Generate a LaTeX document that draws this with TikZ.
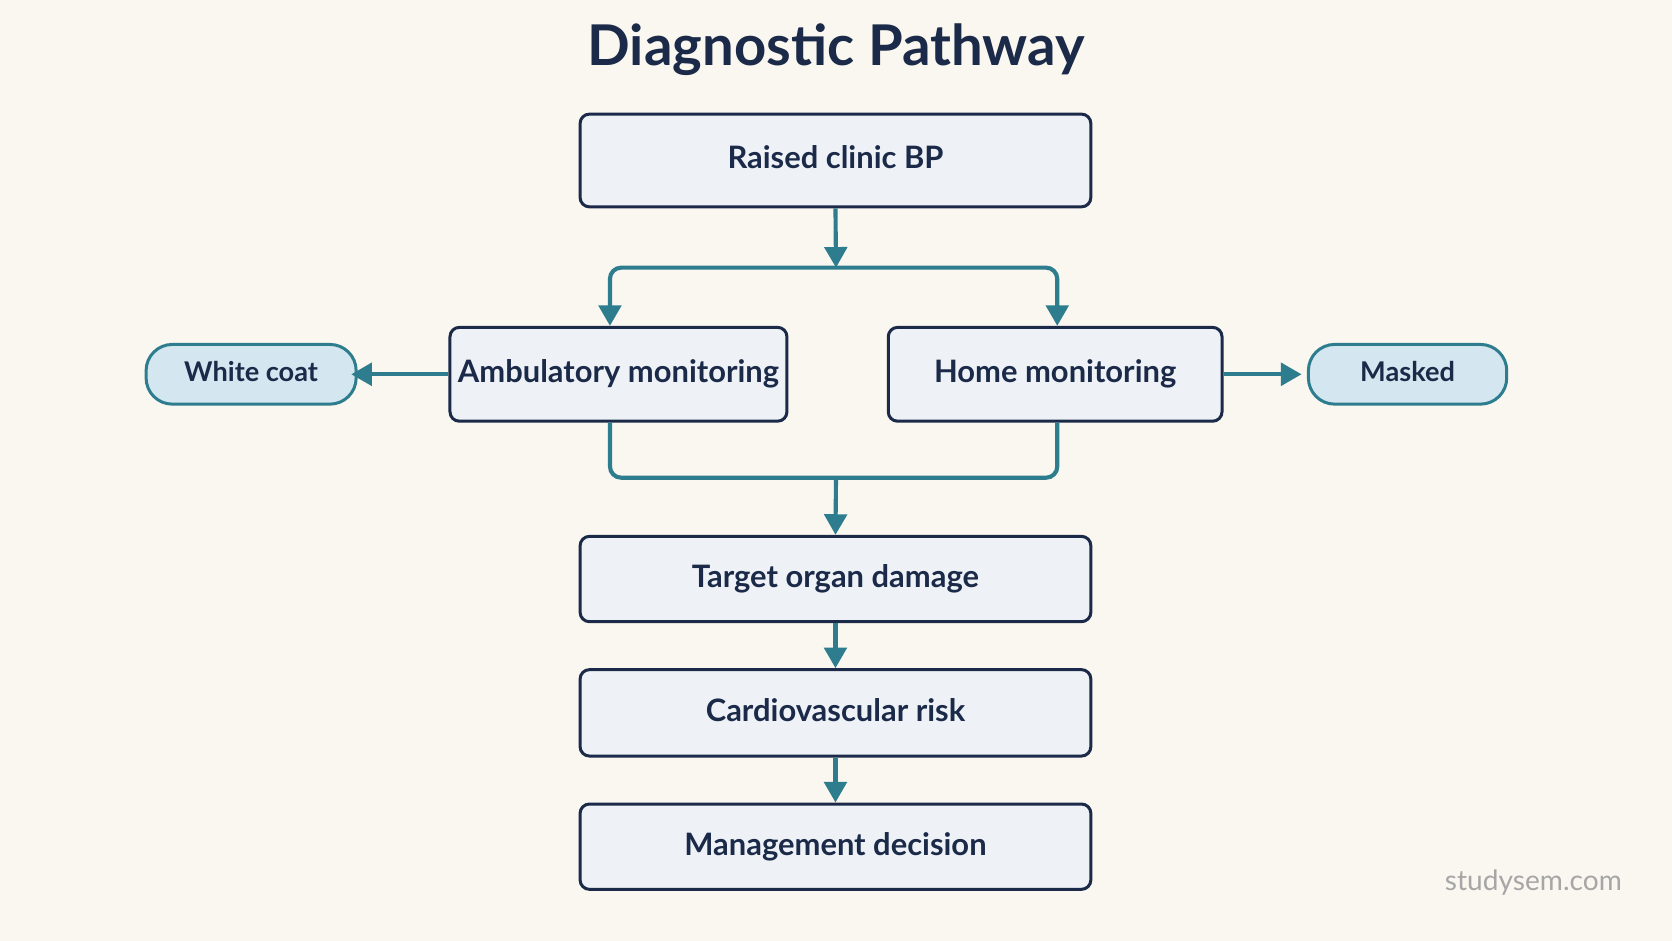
\documentclass[tikz,border=0pt]{standalone}
\usepackage{fontspec}
\setmainfont{Lato}
\usetikzlibrary{arrows.meta}
\definecolor{bg}{HTML}{FAF7F0}
\definecolor{boxfill}{HTML}{EEF2F7}
\definecolor{navy}{HTML}{1B2A48}
\definecolor{teal}{HTML}{2E7D8F}
\definecolor{pillfill}{HTML}{D4E6EF}
\tikzset{
  box/.style={draw=navy,line width=1.6pt,fill=boxfill,rounded corners=5pt,text=navy,font=\fontsize{16.5}{20}\selectfont\bfseries,inner sep=0,text height=12pt,text depth=3pt},
  pill/.style={draw=teal,line width=1.6pt,fill=pillfill,rounded corners=14pt,text=navy,font=\fontsize{14.5}{18}\selectfont\bfseries,inner sep=0,text height=10.5pt,text depth=2.5pt},
  conn/.style={draw=teal,line width=2.2pt,rounded corners=6pt},
  arr/.style={conn,-{Triangle[length=11pt,width=12pt]}}
}
\begin{document}
\begin{tikzpicture}[x=0.02cm,y=-0.02cm]
\fill[bg] (0,0) rectangle (1568,882);
\useasboundingbox (0,0) rectangle (1568,882);
\node[text=navy,font=\fontsize{30}{36}\selectfont\bfseries] (title) at (784,47) {Diagnostic Pathway};
\node[box,minimum width=479*0.02cm,minimum height=87*0.02cm] (raised) at (783.5,150.5) {Raised clinic BP};
\node[box,minimum width=316*0.02cm,minimum height=88*0.02cm] (amb) at (580,351) {Ambulatory monitoring};
\node[box,minimum width=313*0.02cm,minimum height=88*0.02cm] (home) at (989.5,351) {Home monitoring};
\node[pill,minimum width=197*0.02cm,minimum height=56*0.02cm] (white) at (235.5,351) {White coat};
\node[pill,minimum width=186*0.02cm,minimum height=56*0.02cm] (masked) at (1320,351) {Masked};
\node[box,minimum width=479*0.02cm,minimum height=80*0.02cm] (tod) at (783.5,543) {Target organ damage};
\node[box,minimum width=479*0.02cm,minimum height=81*0.02cm] (cv) at (783.5,668.5) {Cardiovascular risk};
\node[box,minimum width=479*0.02cm,minimum height=80*0.02cm] (mgmt) at (783.5,794) {Management decision};
\coordinate (j1) at (784,251);
\coordinate (j2) at (784,448);
\draw[arr] (raised.south) -- (j1);
\draw[arr] (j1) -| ([xshift=-8*0.02cm]amb.north);
\draw[arr] (j1) -| ([xshift=2*0.02cm]home.north);
\draw[conn] ([xshift=-8*0.02cm]amb.south) |- (j2) -| ([xshift=2*0.02cm]home.south);
\draw[arr] (j2) -- (tod.north);
\draw[arr] (tod.south) -- (cv.north);
\draw[arr] (cv.south) -- (mgmt.north);
\draw[arr] (amb.west) -- ([xshift=-6*0.02cm]white.east);
\draw[arr] (home.east) -- ([xshift=-5*0.02cm]masked.west);
\node[text=black!35,font=\fontsize{15}{18}\selectfont] (wm) at (1438,828) {studysem.com};
\end{tikzpicture}
\end{document}
